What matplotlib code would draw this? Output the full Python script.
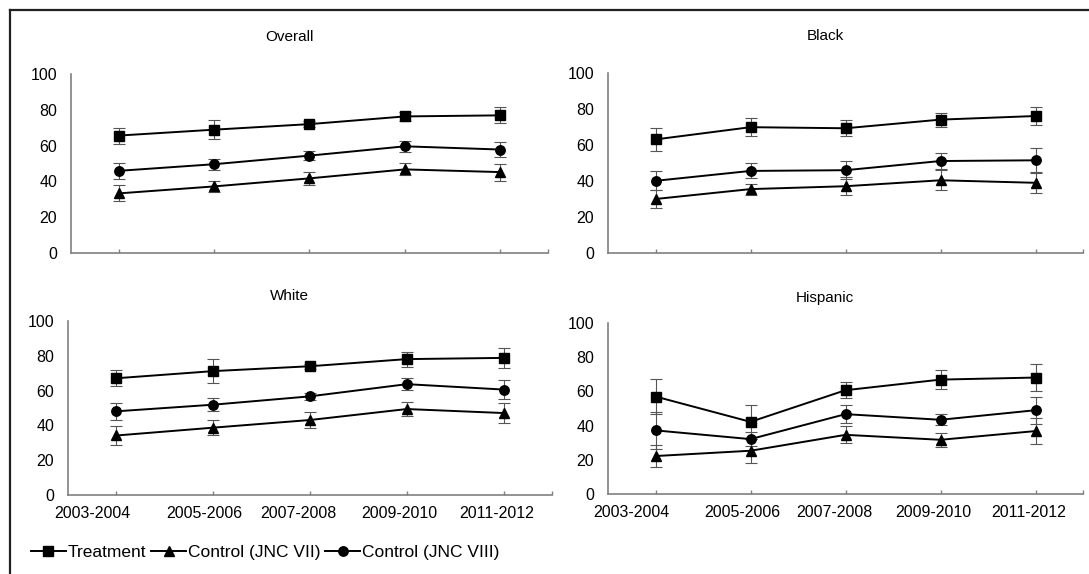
"""
Four-panel line chart (Overall / Black / White / Hispanic) with error bars,
2003-2004 to 2011-2012, three series each. Output: out.png
"""

import matplotlib.pyplot as plt
from matplotlib.lines import Line2D

plt.rcParams["font.family"] = ["Liberation Sans", "DejaVu Sans"]

PERIODS = ["2003-2004", "2005-2006", "2007-2008", "2009-2010", "2011-2012"]
# tick labels in the source sit a little left of their ticks
LABEL_SHIFT = [-0.25, -0.09, -0.12, -0.08, -0.07]

SERIES = ["Treatment", "Control (JNC VII)", "Control (JNC VIII)"]
MARKERS = ["s", "^", "o"]

overall_treat = [65.6, 68.9, 72.0, 76.3, 76.9]
overall_treat_err = [4.5, 5.4, 1.5, 2.7, 4.4]
overall_jnc7 = [33.3, 37.2, 41.7, 46.7, 45.2]
overall_jnc7_err = [4.5, 3.3, 3.5, 3.4, 4.7]
overall_jnc8 = [45.9, 49.6, 54.4, 59.6, 57.8]
overall_jnc8_err = [4.4, 3.1, 2.5, 3.0, 4.4]

black_treat = [63.1, 69.9, 69.3, 74.1, 76.1]
black_treat_err = [6.2, 5.1, 4.5, 3.9, 4.9]
black_jnc7 = [30.0, 35.5, 37.1, 40.4, 39.0]
black_jnc7_err = [4.8, 3.0, 5.0, 5.5, 5.6]
black_jnc8 = [40.1, 45.6, 46.0, 51.1, 51.5]
black_jnc8_err = [5.2, 4.2, 5.0, 4.7, 6.6]

white_treat = [67.1, 71.2, 74.0, 78.1, 78.8]
white_treat_err = [4.6, 6.8, 1.5, 4.3, 5.6]
white_jnc7 = [34.2, 38.7, 43.1, 49.4, 47.1]
white_jnc7_err = [5.6, 4.3, 4.6, 3.8, 6.0]
white_jnc8 = [48.1, 51.9, 56.7, 63.7, 60.6]
white_jnc8_err = [5.0, 3.8, 2.0, 3.4, 5.4]

hisp_treat = [57.0, 42.2, 60.7, 66.9, 68.1]
hisp_treat_err = [10.4, 9.9, 4.6, 5.5, 8.1]
hisp_jnc7 = [22.2, 25.3, 34.6, 31.7, 36.8]
hisp_jnc7_err = [6.5, 7.1, 4.9, 4.1, 7.4]
hisp_jnc8 = [37.2, 32.1, 46.7, 43.4, 49.0]
hisp_jnc8_err = [10.7, 4.0, 5.2, 3.3, 8.0]

PANELS = [
    ("Overall", [overall_treat, overall_jnc7, overall_jnc8],
     [overall_treat_err, overall_jnc7_err, overall_jnc8_err]),
    ("Black", [black_treat, black_jnc7, black_jnc8],
     [black_treat_err, black_jnc7_err, black_jnc8_err]),
    ("White", [white_treat, white_jnc7, white_jnc8],
     [white_treat_err, white_jnc7_err, white_jnc8_err]),
    ("Hispanic", [hisp_treat, hisp_jnc7, hisp_jnc8],
     [hisp_treat_err, hisp_jnc7_err, hisp_jnc8_err]),
]

W, H = 1089, 574
# axes boxes in pixels: left, right, top(y=100), bottom(y=0)
BOXES = [(71, 548, 74, 253), (608, 1083, 73, 253),
         (68, 552, 321, 495), (608, 1083, 323, 494)]

GRAY = "#808080"


def main() -> None:
    fig = plt.figure(figsize=(W / 100, H / 100), dpi=100)
    x = list(range(len(PERIODS)))

    for i, ((title, vals, errs), (l, r, t, b)) in enumerate(zip(PANELS, BOXES)):
        ax = fig.add_axes([l / W, 1 - b / H, (r - l) / W, (b - t) / H])
        for v, e, m, name in zip(vals, errs, MARKERS, SERIES):
            ax.errorbar(x, v, yerr=e, fmt="none", ecolor="#555555",
                        elinewidth=0.8, capsize=4.5, capthick=0.8, zorder=2)
            ax.plot(x, v, color="black", marker=m, markersize=6.8,
                    linewidth=1.4, label=name, zorder=3)

        ax.set_xlim(-0.5, 4.5)
        ax.set_ylim(0, 100)
        ax.set_yticks(range(0, 101, 20))
        ax.tick_params(axis="y", length=0, pad=10, labelsize=11.5)
        ax.set_xticks(x + [4.5])
        ax.set_xticklabels([""] * 6)
        ax.tick_params(axis="x", which="major", direction="in", length=3,
                       color=GRAY, width=1)
        if i >= 2:
            ax.set_xticks([p + s for p, s in zip(x, LABEL_SHIFT)], minor=True)
            ax.set_xticklabels(PERIODS, minor=True)
            ax.tick_params(axis="x", which="minor", length=0, pad=8,
                           labelsize=11.5)
        for side in ("top", "right"):
            ax.spines[side].set_visible(False)
        for side in ("left", "bottom"):
            ax.spines[side].set_color(GRAY)
            ax.spines[side].set_linewidth(1.2)

        off = 37 if i < 2 else 25
        ax.text(0.457, 1 + off / (b - t), title, transform=ax.transAxes,
                ha="center", va="center", fontsize=11)

        if i == 0:
            handles, labels = ax.get_legend_handles_labels()

    fig.legend(handles, labels, loc="center left",
               bbox_to_anchor=(31 / W, 1 - 552 / H), ncol=3, frameon=False,
               fontsize=12.5, borderpad=0, borderaxespad=0, handlelength=2.0,
               handletextpad=0.1, columnspacing=0.3)

    # frame pieces visible at top and left edges of the source image
    fig.add_artist(Line2D([10 / W, 1], [1 - 10 / H] * 2, color="#222222",
                          linewidth=1.6, transform=fig.transFigure))
    fig.add_artist(Line2D([10 / W] * 2, [0, 1 - 10 / H], color="#222222",
                          linewidth=1.6, transform=fig.transFigure))

    fig.savefig("out.png", dpi=100)
    plt.close(fig)


if __name__ == "__main__":
    main()
